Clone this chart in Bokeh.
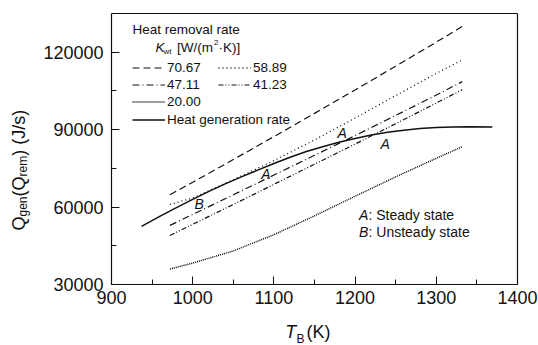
from bokeh.plotting import figure
from bokeh.models import (Range1d, FixedTicker, BasicTickFormatter, Legend,
                          LegendItem, Label, LinearAxis)
from bokeh.embed import file_html
from bokeh.resources import INLINE
import math

# Heat generation rate curve
t_gen = [937, 960, 980, 1000, 1020, 1040, 1060, 1080, 1100, 1120, 1140,
         1160, 1180, 1200, 1220, 1240, 1260, 1280, 1300, 1320, 1340, 1369]
q_gen = [52500, 56500, 59800, 63000, 66100, 69000, 71700, 74300, 76900,
         79300, 81500, 83400, 85100, 86600, 87900, 89000, 89800, 90400,
         90800, 91050, 91150, 91050]

# Heat removal rate curves, one per wall heat-transfer coefficient K_wt
t_rem = [972, 1000, 1050, 1100, 1150, 1200, 1250, 1300, 1332]
q_rem_7067 = [64800, 69600, 78400, 87300, 96300, 105400, 114600, 123900, 130000]
q_rem_5889 = [61000, 63500, 70600, 78000, 86000, 94500, 103200, 111800, 117000]
q_rem_4711 = [52900, 57150, 64750, 72400, 80050, 87700, 95500, 103400, 108600]
q_rem_4123 = [49000, 53300, 61000, 68800, 76600, 84400, 92300, 100300, 105500]
q_rem_2000 = [36000, 38300, 43000, 49300, 56600, 64200, 71700, 78900, 83400]

x_ticks = [900, 1000, 1100, 1200, 1300, 1400]
x_minor = [950, 1050, 1150, 1250, 1350]
y_ticks = [30000, 60000, 90000, 120000]
y_minor = [45000, 75000, 105000]
x_lo, x_hi = 900, 1400
y_lo, y_hi = 30000, 135000

FONT = "Liberation Sans"
INK = "#111111"
W, H = 538, 345
FL, FT, FR, FB = 111, 13, 517, 284   # page pixels of the plotting box

# The frame covers the whole page so that axis titles (with sub/superscripts)
# can be drawn as labels; the box itself is drawn by four fixed axes.
kx = (x_hi - x_lo) / (FR - FL)
ky = (y_hi - y_lo) / (FB - FT)
p = figure(width=W, height=H, output_backend="svg", toolbar_location=None,
           x_range=Range1d(x_lo - FL * kx, x_hi + (W - FR) * kx),
           y_range=Range1d(y_lo - (H - FB) * ky, y_hi + FT * ky),
           min_border=0, min_border_left=0, min_border_right=0,
           min_border_top=0, min_border_bottom=0,
           background_fill_color="white", border_fill_color="white")
p.grid.visible = False
p.outline_line_color = None


def style_axis(ax):
    ax.axis_line_color = INK
    ax.axis_line_width = 1.2
    ax.major_tick_line_color = INK
    ax.minor_tick_line_color = INK
    ax.major_tick_in = 8
    ax.major_tick_out = 0
    ax.minor_tick_in = 5
    ax.minor_tick_out = 0
    ax.major_label_text_font = FONT
    ax.major_label_text_font_size = "18px"
    ax.major_label_text_color = INK


xa, ya = p.xaxis[0], p.yaxis[0]
style_axis(xa)
style_axis(ya)
xa.fixed_location = y_lo
xa.bounds = (x_lo, x_hi)
ya.fixed_location = x_lo
ya.bounds = (y_lo, y_hi)
xa.ticker = FixedTicker(ticks=x_ticks, minor_ticks=x_minor)
ya.ticker = FixedTicker(ticks=y_ticks, minor_ticks=y_minor)
ya.formatter = BasicTickFormatter(use_scientific=False)
xa.major_label_standoff = 6
ya.major_label_standoff = 8

top = LinearAxis(fixed_location=y_hi, bounds=(x_lo, x_hi),
                 ticker=FixedTicker(ticks=[], minor_ticks=[]))
right = LinearAxis(fixed_location=x_hi, bounds=(y_lo, y_hi),
                   ticker=FixedTicker(ticks=[], minor_ticks=[]))
for ax in (top, right):
    style_axis(ax)
    ax.major_tick_in = 0
    ax.minor_tick_in = 0
p.add_layout(top, "above")
p.add_layout(right, "right")

r7067 = p.line(t_rem, q_rem_7067, line_color=INK, line_width=1.2, line_dash="7 4")
r5889 = p.line(t_rem, q_rem_5889, line_color=INK, line_width=1.3, line_dash="1 3")
r4711 = p.line(t_rem, q_rem_4711, line_color=INK, line_width=1.2, line_dash="7 3 1 3")
r4123 = p.line(t_rem, q_rem_4123, line_color=INK, line_width=1.2, line_dash="5 2 1 2 1 2")
r2000 = p.line(t_rem, q_rem_2000, line_color="#000000", line_width=1.4, line_dash="1 1")
rgen = p.line(t_gen, q_gen, line_color=INK, line_width=1.5)

leg_style = dict(padding=0, margin=0, spacing=0, border_line_color=None,
                 background_fill_alpha=0, glyph_width=33, glyph_height=17,
                 label_height=17, label_standoff=2, label_width=51,
                 label_text_font=FONT, label_text_font_size="13.5px",
                 label_text_color=INK)

leg_rem = Legend(items=[LegendItem(label="70.67", renderers=[r7067]),
                        LegendItem(label="58.89", renderers=[r5889]),
                        LegendItem(label="47.11", renderers=[r4711]),
                        LegendItem(label="41.23", renderers=[r4123]),
                        LegendItem(label="20.00", renderers=[r2000])],
                 location=(132, H - 110), orientation="horizontal",
                 ncols=2, **leg_style)
leg_gen = Legend(items=[LegendItem(label="Heat generation rate", renderers=[rgen])],
                 location=(132, H - 127.5), **leg_style)
p.add_layout(leg_rem)
p.add_layout(leg_gen)


def note(px, py, text, size="13.5px", style="normal", angle=0.0, align="left"):
    p.add_layout(Label(x=px, y=H - py, x_units="screen", y_units="screen",
                       text=text, text_font=FONT, text_font_size=size,
                       text_font_style=style, text_color=INK, angle=angle,
                       text_baseline="middle", text_align=align))


# legend heading
note(132, 29.3, "Heat removal rate")
note(155, 47, "K", style="italic")
note(163, 51, "wt", size="8px")
note(176.5, 47, "[W/(m")
note(213.5, 42, "2", size="8px")
note(218, 47, "\u00b7K)]")

# operating points
note(341.6, 132.8, "A", size="14px", style="italic", align="center")
note(384.6, 143.6, "A", size="14px", style="italic", align="center")
note(265.5, 173.3, "A", size="14px", style="italic", align="center")
note(198.6, 203.3, "B", size="14px", style="italic", align="center")
note(358.6, 214.3, "A", size="14px", style="italic")
note(368, 214.3, ": Steady state", size="14px")
note(358.6, 231, "B", size="14px", style="italic")
note(368, 231, ": Unsteady state", size="14px")

# x-axis title: T_B (K)
note(284.8, 331.5, "T", size="18px", style="italic")
note(296, 338, "B", size="12px")
note(306, 331.5, "(K)", size="18px")

# y-axis title: Q_gen(Q_rem) (J/s), rotated
up = math.pi / 2
note(18.5, 230, "Q", size="18px", angle=up)
note(22.5, 216, "gen", size="12px", angle=up)
note(18.5, 196, "(Q", size="18px", angle=up)
note(22.5, 176, "rem", size="12px", angle=up)
note(18.5, 155.3, ") (J/s)", size="18px", angle=up)

open("out.html", "w").write(file_html(p, INLINE))
